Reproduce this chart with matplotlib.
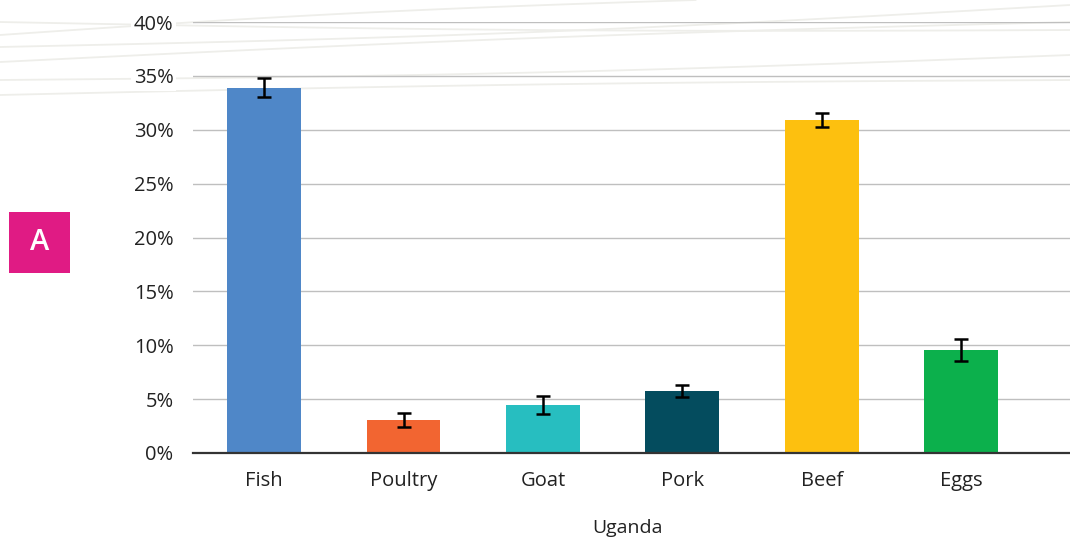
import matplotlib
matplotlib.use("Agg")
import matplotlib.pyplot as plt
from matplotlib.lines import Line2D
from matplotlib.patches import Rectangle
import numpy as np

categories = ["Fish", "Poultry", "Goat", "Pork", "Beef", "Eggs"]
values = [33.9, 3.05, 4.45, 5.75, 30.9, 9.55]
errors = [0.9, 0.65, 0.87, 0.55, 0.65, 1.05]
colors = ["#4F87C8", "#F26531", "#27BEC0", "#044C5E", "#FDC00F", "#0CB04C"]
yticks = [0, 5, 10, 15, 20, 25, 30, 35, 40]
xlabel = "Uganda"
panel = "A"

plt.rcParams['font.family'] = ['Open Sans', 'DejaVu Sans']

fig = plt.figure(figsize=(10.7, 5.4), dpi=100)
fig.patch.set_facecolor("white")

# faint decorative wavy lines in background (top area)
def wave(y_left, y_right, amp, x_end=1.0):
    xs = np.linspace(0, x_end, 80)
    ys = y_left + (y_right - y_left) * xs / x_end + amp * np.sin(np.pi * xs / x_end)
    fig.add_artist(Line2D(xs, 1 - ys / 540, color="#EEEEEA", lw=1.3, zorder=0))

wave(35, 0, -4, 0.65)
wave(22, 30, 4)
wave(47, 5, 6)
wave(62, 22, -4)
wave(80, 55, 5)
wave(95, 80, -3)

ax = fig.add_axes([193/1070, 87/540, 1 - 193/1070, (453-22)/540])
ax.set_facecolor("none")
x = np.arange(len(categories))
ax.bar(x, values, width=0.53, color=colors, zorder=3)
ax.errorbar(x, values, yerr=errors, fmt="none", ecolor="black",
            elinewidth=1.8, capsize=5, capthick=1.8, zorder=4)

ax.set_ylim(0, 40)
ax.set_xlim(-0.51, 5.78)
ax.set_yticks(yticks)
ax.set_yticklabels([f"{v}%" for v in yticks])
ax.set_xticks(x)
ax.set_xticklabels(categories)
ax.grid(axis="y", color="#BFBFBF", lw=1.0, zorder=0)
ax.set_axisbelow(True)
for s in ["top", "right", "left"]:
    ax.spines[s].set_visible(False)
ax.spines["bottom"].set_color("#333333")
ax.spines["bottom"].set_linewidth(1.6)
ax.spines["bottom"].set_zorder(5)
ax.tick_params(axis="both", length=0, labelsize=14.5, colors="#222222")
ax.tick_params(axis="y", pad=14)
ax.tick_params(axis="x", pad=13)
for lbl in ax.get_yticklabels():
    lbl.set_bbox(dict(facecolor="white", edgecolor="none", pad=2))

fig.text(628/1070, 1 - 528/540, xlabel, ha="center", va="center", fontsize=14, color="#222222")

fig.add_artist(Rectangle((9/1070, 1 - 273/540), 61/1070, 61/540, transform=fig.transFigure,
                         facecolor="#E01B84", edgecolor="none"))
fig.text(39.5/1070, 1 - 242/540, panel, ha="center", va="center", fontsize=21,
         color="white", fontweight=600)

fig.savefig("out.png", dpi=100, facecolor="white")
